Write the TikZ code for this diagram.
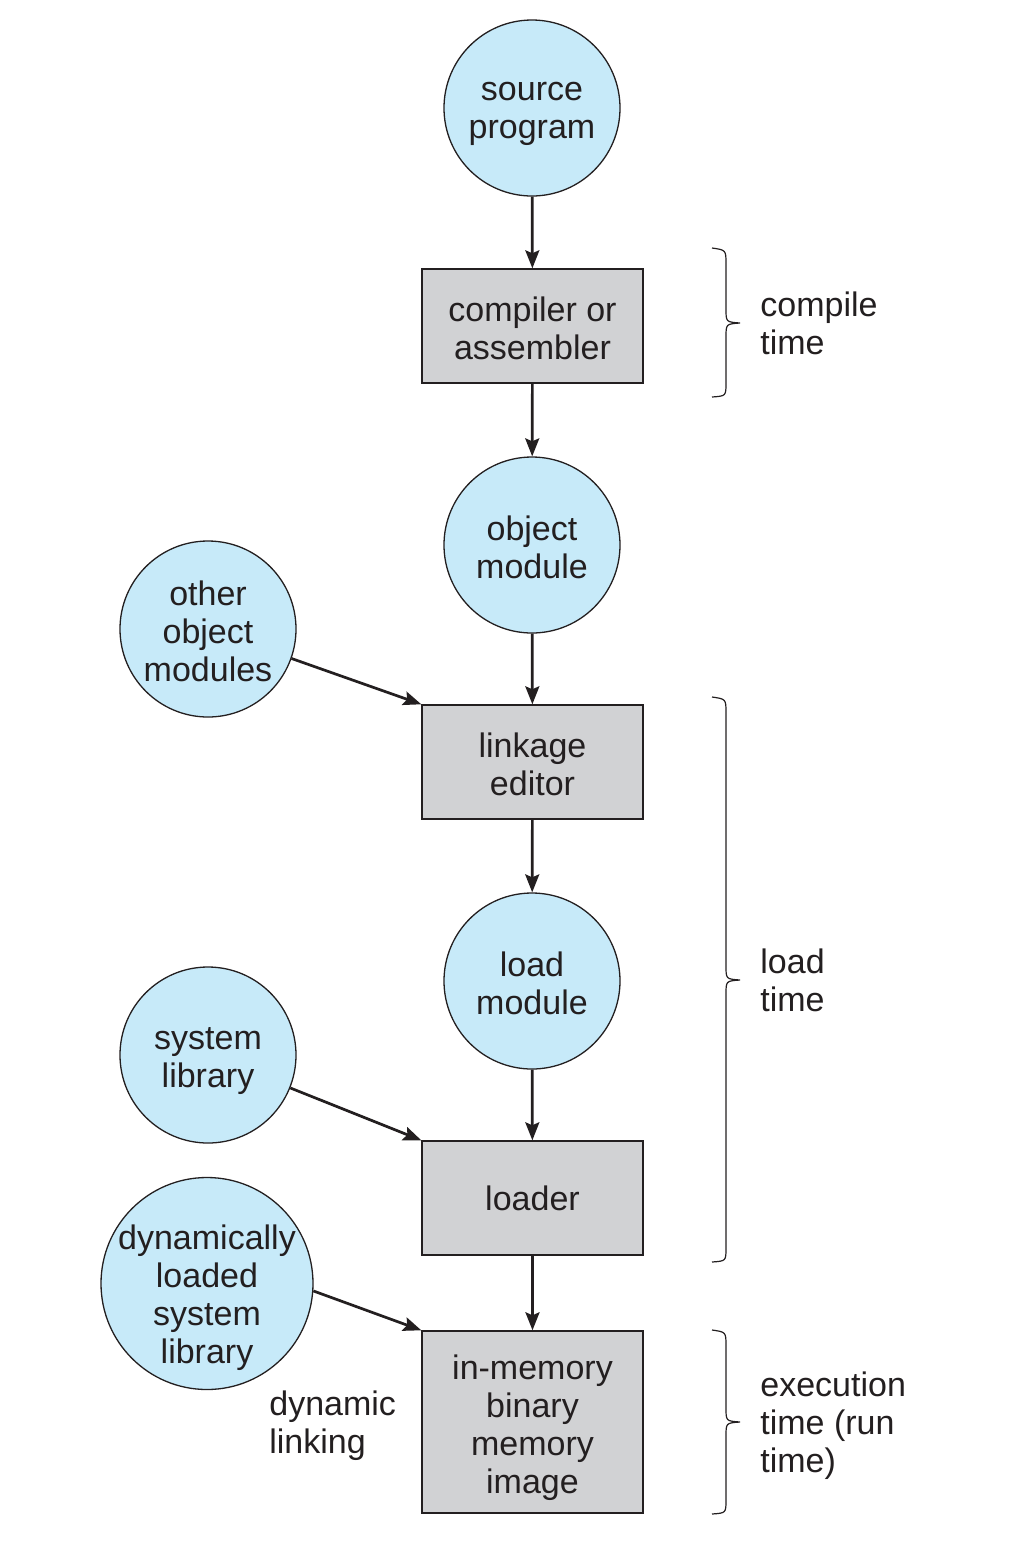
\documentclass[tikz,border=0pt]{standalone}
\usepackage{fontspec}
\setmainfont{Liberation Sans}
\usetikzlibrary{arrows.meta}
\definecolor{circblue}{RGB}{199,234,249}
\definecolor{boxgray}{RGB}{209,210,212}
\definecolor{ink}{RGB}{35,31,32}
\tikzset{
  txt/.style={font=\fontsize{17}{19}\selectfont, text=ink, align=center, inner sep=0pt, yshift=-3.25pt,
    execute at begin node={\rule{0pt}{14.8pt}},
    execute at end node={\rule[-4pt]{0pt}{4pt}}},
  circ/.style={circle, draw=ink, line width=0.65pt, fill=circblue, minimum size=88pt, inner sep=0pt},
  bigcirc/.style={circ, minimum size=106pt},
  procbox/.style={rectangle, draw=ink, line width=0.7pt, fill=boxgray, minimum width=110.5pt, minimum height=57pt, inner sep=0pt},
  arr/.style={draw=ink, line width=1.35pt, -{Stealth[length=9pt,width=7pt,inset=1.5pt]}},
  bracestyle/.style={draw=ink, line width=0.6pt},
  sidetxt/.style={txt, align=left, anchor=west}
}
\begin{document}
\begin{tikzpicture}[x=0.5pt,y=-0.5pt]
\useasboundingbox (0,0) rectangle (1012,1544);
\node[circ, label={[txt]center:{source\\program}}] (src) at (532,108) {};
\node[procbox, label={[txt]center:{compiler or\\assembler}}] (comp) at (532.5,326) {};
\node[circ, label={[txt]center:{object\\module}}] (obj) at (532,545) {};
\node[circ, label={[txt]center:{other\\object\\modules}}] (oom) at (208,629) {};
\node[procbox, label={[txt]center:{linkage\\editor}}] (le) at (532.5,762) {};
\node[circ, label={[txt]center:{load\\module}}] (lm) at (532,981) {};
\node[circ, label={[txt]center:{system\\library}}] (sl) at (208,1055) {};
\node[procbox, label={[txt, yshift=2.5pt]center:{loader}}] (ld) at (532.5,1198) {};
\node[bigcirc] (dl) at (207,1283.5) {};
\node[txt] (dltxt) at (207,1292) {dynamically\\loaded\\system\\library};
\node[procbox, minimum height=91pt, label={[txt]center:{in-memory\\binary\\memory\\image}}] (im) at (532.5,1422) {};
\node[sidetxt] (dyn) at (269,1420) {dynamic\\linking};
\node[sidetxt] (ct) at (760,321) {compile\\time};
\node[sidetxt] (lt) at (760,978) {load\\time};
\node[sidetxt] (et) at (760,1420) {execution\\time (run\\time)};

\draw[arr] (src) -- (comp);
\draw[arr] (comp) -- (obj);
\draw[arr] (obj) -- (le);
\draw[arr] (oom) -- (le.north west);
\draw[arr] (le) -- (lm);
\draw[arr] (lm) -- (ld);
\draw[arr] (sl) -- (ld.north west);
\draw[arr] (ld) -- (im);
\draw[arr] (dl.-4) -- (im.north west);

% braces
\draw[bracestyle] (712,248) .. controls (726,250) .. (726,264) -- (726,309)
  .. controls (726,322) .. (740,323) .. controls (726,324) .. (726,337)
  -- (726,383) .. controls (726,396) .. (712,397);
\draw[bracestyle] (712,697) .. controls (726,699) .. (726,713) -- (726,966)
  .. controls (726,979) .. (740,980) .. controls (726,981) .. (726,994)
  -- (726,1248) .. controls (726,1261) .. (712,1262);
\draw[bracestyle] (712,1330) .. controls (726,1332) .. (726,1346) -- (726,1408)
  .. controls (726,1421) .. (740,1422) .. controls (726,1423) .. (726,1436)
  -- (726,1500) .. controls (726,1513) .. (712,1514);
\end{tikzpicture}
\end{document}
